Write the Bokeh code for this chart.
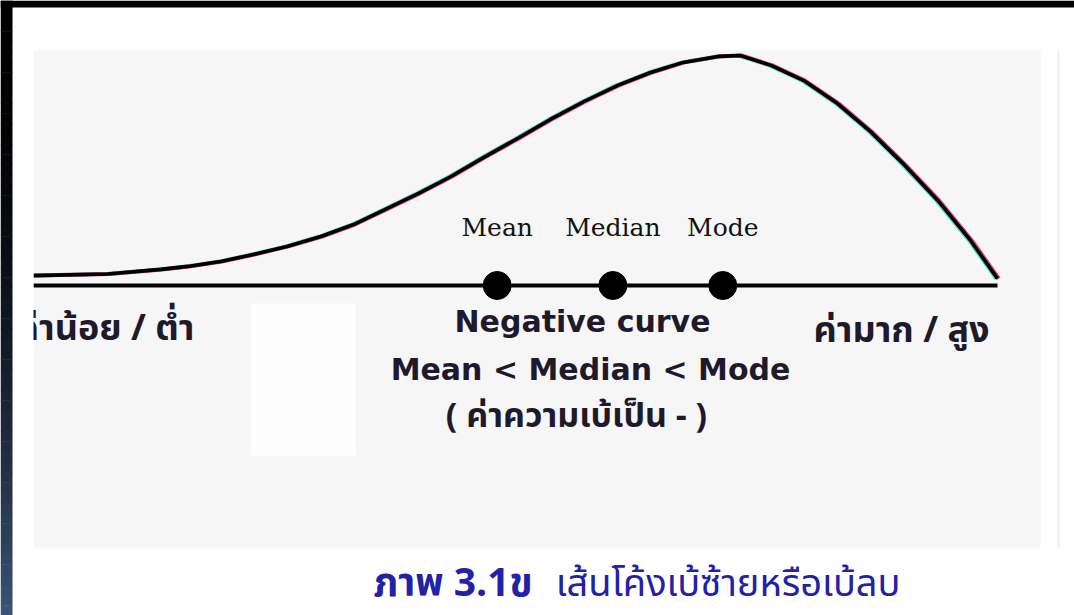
from bokeh.plotting import figure
from bokeh.models import Range1d
from bokeh.core.properties import value
from bokeh.embed import file_html
from bokeh.resources import INLINE

# Negatively skewed frequency curve: score (0..100) vs relative frequency (0..100)
score = [0.0, 7.7, 13.2, 16.0, 19.4, 22.8, 26.3, 29.8, 33.2, 36.7, 40.1, 43.3,
         46.7, 50.2, 53.6, 57.1, 60.6, 64.0, 67.4, 71.0, 73.3, 76.5, 79.9, 83.4,
         86.8, 90.2, 93.8, 97.2, 100.0]
frequency = [4.3, 5.0, 7.0, 8.3, 10.4, 13.5, 17.0, 21.3, 26.5, 33.5, 40.4, 47.4,
             55.7, 63.9, 72.2, 80.0, 87.0, 92.6, 97.0, 99.6, 100.0, 95.7, 89.1, 79.1,
             67.0, 53.0, 37.0, 19.6, 3.0]

# Central tendency markers along the score axis
stat_names = ["Mean", "Median", "Mode"]
stat_scores = [48.1, 60.1, 71.5]

axis_ends = [0.0, 100.0]
low_label = "ค่าน้อย / ต่ำ"
high_label = "ค่ามาก / สูง"
title_lines = ["Negative curve", "Mean < Median < Mode", "( ค่าความเบ้เป็น - )"]
caption_bold = "ภาพ 3.1ข"
caption_rest = "เส้นโค้งเบ้ซ้ายหรือเบ้ลบ"

W, H = 1074, 615
# page layout: score 0 sits 33px from the left edge, 9.64px per score unit;
# frequency 0 sits 285px from the top, 2.3px per frequency unit
X0, XS = 33.0, 9.64
Y0, YS = 285.0, 2.3


def sx(px):
    return (px - X0) / XS


def sy(py):
    return (Y0 - py) / YS


p = figure(width=W, height=H, output_backend="svg", toolbar_location=None,
           x_range=Range1d(sx(0), sx(W)), y_range=Range1d(sy(H), sy(0)),
           min_border=0, background_fill_color="white", border_fill_color="white")
p.axis.visible = False
p.grid.visible = False
p.outline_line_color = None

# panels
p.quad(left=[sx(33)], right=[sx(1040)], top=[sy(50)], bottom=[sy(547)],
       fill_color="#f6f6f6", line_color=None)
p.quad(left=[sx(250)], right=[sx(355)], top=[sy(303)], bottom=[sy(455)],
       fill_color="#fdfdfd", line_color=None)
p.segment(x0=[sx(1058)], x1=[sx(1058)], y0=[sy(50)], y1=[sy(547)],
          line_color="#f0f0f0", line_width=2)

# baseline
p.line(x=axis_ends, y=[0, 0], line_color="black", line_width=4)

# curve with slight colour fringing
shift = 1.4 / XS
p.line(x=[s - shift for s in score], y=frequency, line_color="#22e0b0", line_width=4,
       line_alpha=0.8, line_join="round")
p.line(x=[s + shift for s in score], y=frequency, line_color="#e0106a", line_width=4,
       line_alpha=0.8, line_join="round")
p.line(x=score, y=frequency, line_color="black", line_width=3.6, line_join="round")

# markers and their names
p.scatter(x=stat_scores, y=[0] * len(stat_scores), size=28, color="black")
p.text(x=stat_scores, y=[sy(227)] * len(stat_scores), text=stat_names,
       text_font=value("DejaVu Serif"), text_font_size="25px", text_color="#111111",
       text_align="center", text_baseline="alphabetic")

# centre explanation
p.text(x=[sx(582), sx(590)], y=[sy(321), sy(369)], text=title_lines[:2],
       text_font=value("DejaVu Sans"), text_font_style="bold", text_font_size="30px",
       text_color="#1e1a2c", text_align="center", text_baseline="alphabetic")
thai_font = value("Noto Sans Thai, Noto Sans Thai Looped, Tahoma, Loma, Garuda, sans-serif")
p.text(x=[sx(576)], y=[sy(416)], text=title_lines[2:],
       text_font=thai_font, text_font_style="bold", text_font_size="34px",
       text_color="#1e1a2c", text_align="center", text_baseline="alphabetic")

# ends of the scale
p.text(x=[sx(194)], y=[sy(328)], text=[low_label], text_font=thai_font,
       text_font_style="bold", text_font_size="36px", text_color="#1e1a2c",
       text_align="right", text_baseline="alphabetic")
p.text(x=[sx(813)], y=[sy(330)], text=[high_label], text_font=thai_font,
       text_font_style="bold", text_font_size="36px", text_color="#1e1a2c",
       text_align="left", text_baseline="alphabetic")

# caption
p.text(x=[sx(373)], y=[sy(584)], text=[caption_bold], text_font=thai_font,
       text_font_style="bold", text_font_size="39px", text_color="#2222a8",
       text_align="left", text_baseline="alphabetic")
p.text(x=[sx(900)], y=[sy(584)], text=[caption_rest], text_font=thai_font,
       text_font_size="38px", text_color="#2222a8",
       text_align="right", text_baseline="alphabetic")

# white margin left of the panel (trims the low-end label)
p.quad(left=[sx(12)], right=[sx(33)], top=[sy(7)], bottom=[sy(H)],
       fill_color="white", line_color=None)

# frame: black top band and a dark vertical gradient strip on the left
p.quad(left=[sx(0)], right=[sx(W)], top=[sy(0)], bottom=[sy(7)],
       fill_color="black", line_color=None)
steps = 60
lefts, rights, tops, bottoms, colors = [], [], [], [], []
for i in range(steps):
    t0 = i / steps
    t1 = (i + 1) / steps
    k = ((t0 + t1) / 2) ** 2
    r, g, b = int(60 * k), int(84 * k), int(120 * k)
    lefts.append(sx(0))
    rights.append(sx(12))
    tops.append(sy(t0 * H))
    bottoms.append(sy(t1 * H) - 0.2)
    colors.append("#%02x%02x%02x" % (r, g, b))
p.quad(left=lefts, right=rights, top=tops, bottom=bottoms, fill_color=colors, line_color=None)

open("out.html", "w").write(file_html(p, INLINE))
